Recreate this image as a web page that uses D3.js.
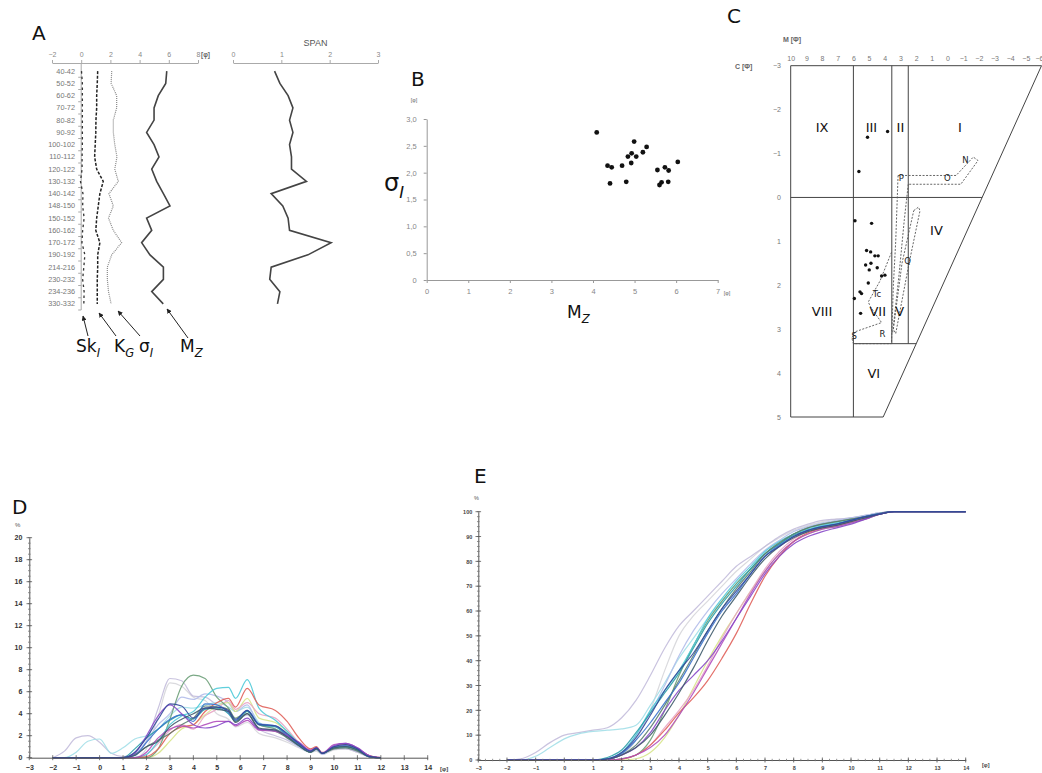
<!DOCTYPE html>
<html><head><meta charset="utf-8">
<script src="https://cdn.jsdelivr.net/npm/d3@7"></script>
<style>body{margin:0;background:#fff}svg{display:block}</style>
</head><body><svg id="c" width="1042" height="773"></svg>
<script>
// ================= DATA =================
// Panel A – down-core grain-size parameters
const depthLabels = ["40-42","50-52","60-62","70-72","80-82","90-92","100-102","110-112","120-122","130-132","140-142","148-150","150-152","160-162","170-172","190-192","214-216","230-232","234-236","330-332"];
const mzValues    = [5.86,5.79,5.28,4.99,4.99,4.48,4.99,5.33,4.83,5.17,5.63,6.08,4.48,4.83,4.14,4.71,5.63,5.63,4.83,5.62];
const sigmaValues = [2.09,2.05,2.43,2.43,2.20,2.20,2.30,2.45,2.30,2.54,1.90,2.20,1.87,2.20,2.77,2.09,1.79,1.79,1.87,2.05];
const kgValues    = [1.13,1.10,1.06,1.06,1.01,1.00,0.96,0.92,1.06,1.51,1.28,1.17,1.06,1.00,1.28,1.13,1.13,1.10,1.10,1.10];
const skValues    = [0.02,0.08,0.08,0.08,0.08,0.08,0.08,0.06,0.06,-0.05,0.12,0.10,0.20,0.10,0.05,0.25,0.18,0.10,0.20,0.18];
const spanValues  = [0.86,0.97,1.14,1.24,1.17,1.24,1.17,1.21,1.21,1.52,0.79,1.03,1.14,1.17,2.03,1.55,0.79,0.76,0.97,0.92];
const phiTicksA = [-2,0,2,4,6,8];
const spanTicks = [0,1,2,3];

// Panel B – sorting vs mean size
const bMz    = [4.09,4.99,4.35,4.45,4.41,4.70,4.84,4.93,5.04,4.92,5.20,5.29,4.80,5.55,5.73,5.82,6.04,5.60,5.65,5.81];
const bSigma = [2.75,2.58,2.13,2.10,1.80,2.13,2.30,2.36,2.30,2.18,2.38,2.48,1.83,2.05,2.10,2.04,2.20,1.77,1.82,1.83];
const bXTicks = [0,1,2,3,4,5,6,7];
const bYTicks = [0,0.5,1,1.5,2,2.5,3];

// Panel C – C–M (Passega) diagram
const cmM = [5.10,3.82,5.65,5.90,4.84,5.16,4.90,4.63,4.42,5.22,4.88,4.99,4.48,4.20,3.99,5.58,5.48,5.94,5.54,5.05];
const cmC = [-1.37,-1.50,-0.59,0.53,0.59,1.21,1.24,1.33,1.33,1.54,1.50,1.65,1.60,1.79,1.77,2.15,2.19,2.30,2.64,1.95];
const cmMTicks = [10,9,8,7,6,5,4,3,2,1,0,-1,-2,-3,-4,-5,-6];
const cmCTicks = [-3,-2,-1,0,1,2,3,4,5];
const regionNames = ["IX","III","II","I","IV","VIII","VII","V","VI"];
const regionM     = [8.0, 4.85, 3.0, -0.8, 0.7, 8.0, 4.45, 3.05, 4.7];
const regionC     = [-1.6,-1.6,-1.6,-1.6,0.75,2.6,2.6,2.6,4.0];
const letterNames = ["N","O","P","Q","Tc","R","S"];
const letterM     = [-1.15,0.0,2.95,2.55,4.5,4.15,5.95];
const letterC     = [-0.85,-0.45,-0.45,1.45,2.2,3.1,3.15];
const envPQ   = [[3.15,-0.5],[-0.55,-0.5],[-1.65,-0.92],[-1.95,-0.84],[-0.85,-0.3],[2.5,-0.3]];
const envLeft = [[3.15,-0.5],[3.3,1.0],[3.45,2.0],[3.57,3.33]];
const envMid  = [[2.5,-0.3],[2.75,0.5],[3.1,1.8],[3.5,3.1]];
const envLoop = [[2.15,0.3],[1.85,0.22],[1.75,0.3],[2.45,1.5],[3.3,3.1],[3.45,3.0],[2.9,1.5],[2.15,0.3]];
const envRS   = [[3.57,1.25],[4.3,1.9],[5.05,2.38],[4.9,2.5],[4.2,2.85],[5.9,3.06],[6.1,3.2],[6.0,3.33],[3.57,3.33]];

// Panel D – frequency curves (phi, %)
const dPhi = [-2,-1.5,-1,-0.5,0,0.5,1,1.5,2,2.5,3,3.5,4,4.5,5,5.5,5.8,6.3,6.8,7.5,8,8.5,9,9.25,9.5,10,10.5,11,11.5,12];
const freq1  = [0,0.6,1.8,2.0,1.4,0.4,0.1,0.3,1.5,4.5,7.2,7.0,5.6,5.5,4.8,4.3,3.4,3.9,2.6,2.0,1.6,1.0,0.5,0.7,0.4,0.8,0.8,0.5,0.1,0];
const freq2  = [0,0,0.5,1.5,1.7,0.4,0.9,1.7,2.0,2.6,3.8,4.6,4.5,4.8,5.0,4.6,4.2,4.6,3.2,2.6,2.0,1.2,0.6,0.8,0.4,0.9,1.0,0.7,0.1,0];
const freq3  = [0,0,0,0,0,0,0,0,0,0.8,3.5,6.5,7.5,7.2,5.5,4.5,3.6,4.2,3.0,2.6,2.0,1.2,0.5,0.8,0.4,0.9,1.0,0.7,0.1,0];
const freq4  = [0,0,0,0,0,0,0,0,0.3,1.5,3.0,3.8,4.2,5.5,6.3,6.4,5.4,7.1,4.5,3.4,2.4,1.3,0.6,0.9,0.4,0.9,1.0,0.7,0.1,0];
const freq5  = [0,0,0,0,0,0,0,0,0.1,0.8,2.2,2.8,3.0,4.2,5.0,5.4,4.6,6.3,4.8,4.3,3.3,1.8,0.8,1.0,0.4,1.0,1.2,0.8,0.2,0];
const freq6  = [0,0,0,0,0,0,0,0.5,1.8,3.5,4.9,4.7,3.6,4.5,4.6,4.3,3.5,4.3,3.0,2.9,2.2,1.3,0.6,0.9,0.4,1.0,1.2,0.8,0.1,0];
const freq7  = [0,0,0,0,0,0,0,0.4,2.0,3.8,4.8,4.0,3.0,2.7,2.9,3.3,3.0,3.6,2.6,2.5,2.0,1.4,0.6,0.9,0.4,1.1,1.3,0.9,0.2,0];
const freq8  = [0,0,0,0,0,0,0,0.8,1.8,2.6,3.4,3.9,3.5,4.4,4.5,4.0,3.3,4.2,3.0,2.8,2.0,1.1,0.5,0.8,0.4,0.9,1.0,0.7,0.1,0];
const freq9  = [0,0,0,0,0,0,0,0.3,1.0,1.6,2.2,3.0,3.6,4.7,4.6,4.4,3.3,4.0,2.6,2.4,1.8,1.1,0.5,0.8,0.4,0.8,0.9,0.6,0.1,0];
const freq10 = [0,0,0,0,0,0,0,0,0.3,1.3,2.5,3.0,2.6,3.8,4.4,5.2,4.4,5.0,4.0,3.6,2.6,1.4,0.7,0.9,0.5,1.0,1.1,0.7,0.1,0];
const freq11 = [0,0,0,0,0,0,0,0,0,0.4,1.5,2.6,3.0,3.9,4.7,5.0,4.2,5.4,3.6,3.2,2.4,1.3,0.6,0.8,0.4,0.9,1.0,0.7,0.2,0];
const freq12 = [0,0,0,0,0,0,0,0,0.8,3.8,6.8,6.5,5.5,5.2,4.0,3.5,2.8,3.2,2.2,1.8,1.4,0.9,0.5,0.6,0.3,0.7,0.8,0.5,0.1,0];
const freq13 = [0,0,0,0,0,0,0,0.3,1.5,3.0,4.0,5.5,5.3,5.8,5.6,5.0,4.2,4.8,3.0,2.6,1.8,1.0,0.5,0.7,0.3,0.8,0.9,0.6,0.1,0];
const freq14 = [0,0,0,0,0,0,0,0.2,1.4,2.6,3.5,3.9,3.3,4.9,4.8,4.1,3.4,4.3,3.1,2.9,2.1,1.2,0.6,0.9,0.4,1.0,1.1,0.8,0.1,0];
const freq15 = [0,0,0,0,0,0,0,0.2,1.0,1.5,2.8,3.5,4.0,4.5,4.4,4.2,3.2,4.0,2.7,2.5,1.9,1.1,0.5,0.8,0.4,0.9,1.0,0.7,0.1,0];
const freq16 = [0,0,0,0,0,0,0,0,0.5,1.8,2.6,2.9,2.7,3.0,3.3,3.3,2.9,3.4,2.5,2.4,2.0,1.4,0.7,0.9,0.4,1.2,1.3,0.9,0.2,0];
const dXTicks = [-3,-2,-1,0,1,2,3,4,5,6,7,8,9,10,11,12,13,14];
const dYTicks = [0,2,4,6,8,10,12,14,16,18,20];

// Panel E – cumulative curves (phi, %)
const ePhi = [-2,-1.5,-1,-0.5,0,0.5,1,1.5,2,2.5,3,3.5,4,4.5,5,5.5,6,6.5,7,7.5,8,8.5,9,9.5,10,10.5,11,11.5,12,12.5,13,13.5,14];
const cum1  = [0,0.5,3,7,10,11,12,13,17,24,34,45,54,60,66,72,78,82,86,90,93,95,96.5,97,97.5,98.5,99.5,100,100,100,100,100,100];
const cum2  = [0,0,1.5,5,8.5,10.5,11.5,12,12.5,14,22,31,41,49,57,64,71,77,83,87,91,93.5,95,96,97,98,99.3,100,100,100,100,100,100];
const cum3  = [0,0,0,0,0,0,0,0,0.5,2,8,20,34,46,56,64,71,77,83,87,91,93.5,95,96,97,98,99.2,100,100,100,100,100,100];
const cum4  = [0,0,0,0,0,0,0,0.5,3,10,20,28,36,46,57,65,72,78,84,88,91,93,94.5,95.5,96.5,98,99.2,100,100,100,100,100,100];
const cum5  = [0,0,0,0,0,0,0,0,0.3,2,6,12,19,25,32,41,51,63,74,82,88,91.5,93.5,94.5,96,97.5,99,100,100,100,100,100,100];
const cum6  = [0,0,0,0,0,0,0,0.5,3,9,18,28,36,43,52,61,68,75,82,86,90,92.5,94,95,96.5,98,99,100,100,100,100,100,100];
const cum7  = [0,0,0,0,0,0,0,0.3,2,5,11,20,28,34,40,48,57,66,75,82,87,90,92,93.5,95,97,99,100,100,100,100,100,100];
const cum8  = [0,0,0,0,0,0,0,1,4,11,19,27,35,45,55,63,70,77,83,87,90.5,92.5,94,95,96.5,98,99,100,100,100,100,100,100];
const cum9  = [0,0,0,0,0,0,0,0.3,2,6,13,22,32,42,52,61,69,76,83,87.5,91,93.5,95,96,97,98,99.3,100,100,100,100,100,100];
const cum10 = [0,0,0,0,0,0,0,0,0.3,2,6,13,20,28,38,49,59,68,77,84,89,92,93.5,94.5,96,97.5,99,100,100,100,100,100,100];
const cum11 = [0,0,0,0,0,0,0,0,0,0.5,3,9,18,29,40,50,59,68,76,83,88,91,93,94,95.5,97,99,100,100,100,100,100,100];
const cum12 = [0,0,0,0,0,0,0,0.5,2,8,20,36,50,58,64,70,76,81,86,89.5,92.5,94.5,96,97,97.5,98.5,99.5,100,100,100,100,100,100];
const cum13 = [0,0,0,0,0,0,0,0.5,3,10,19,30,42,52,60,67,73,79,84.5,88.5,92,94,95.5,96.5,97.5,98.5,99.5,100,100,100,100,100,100];
const cum14 = [0,0,0,0,0,0,0,0.3,2.5,8,15,23,31,41,51,60,67,75,82,86.5,90,92.5,94,95,96.5,98,99.2,100,100,100,100,100,100];
const cum15 = [0,0,0,0,0,0,0,0.3,2,5,10,18,27,37,48,58,66,74,81,86,89.5,92,93.5,94.5,96,97.5,99,100,100,100,100,100,100];
const cum16 = [0,0,0,0,0,0,0,0,0.5,2,5,10,18,27,37,47,57,67,76,83,88,91,93,94,95.5,97,99,100,100,100,100,100,100];
const eXTicks = [-3,-2,-1,0,1,2,3,4,5,6,7,8,9,10,11,12,13,14];
const eYTicks = [0,10,20,30,40,50,60,70,80,90,100];

// ================= DRAW =================
const FONT = "'Liberation Sans', Arial, sans-serif";
const svg = d3.select("#c");
svg.append("rect").attr("width",1042).attr("height",773).attr("fill","#fff");
const defs = svg.append("defs");
defs.append("marker").attr("id","ah").attr("viewBox","0 0 10 10").attr("refX",9).attr("refY",5)
  .attr("markerWidth",5).attr("markerHeight",5).attr("orient","auto")
  .append("path").attr("d","M0,0L10,5L0,10z").attr("fill","#222");

function styleAx(g, col, tcol, fs, bold) {
  g.selectAll("path,line").attr("stroke", col);
  g.selectAll("text").attr("fill", tcol).style("font-size", fs + "px").style("font-family", FONT)
    .style("font-weight", bold ? "bold" : "normal");
}
function txt(x, y, s, fs, opt = {}) {
  return svg.append("text").attr("x", x).attr("y", y).text(s)
    .style("font-size", fs + "px").style("font-family", opt.family || "'DejaVu Sans', sans-serif")
    .attr("fill", opt.fill || "#111").attr("text-anchor", opt.anchor || "start")
    .style("font-weight", opt.bold ? "bold" : "normal");
}
function subLabel(x, y, main, sub, fs) {
  const t = svg.append("text").attr("x", x).attr("y", y)
    .style("font-family", "'DejaVu Sans', sans-serif").style("font-size", fs + "px").attr("fill", "#111");
  t.append("tspan").text(main);
  t.append("tspan").text(sub).attr("dy", fs * 0.3).style("font-size", (fs * 0.68) + "px").style("font-style", "italic");
  return t;
}

// panel letters
[["A",32,40],["B",411,86],["C",727,23],["D",12,514],["E",474,483]].forEach(([s,x,y]) => txt(x, y, s, 20, {fill:"#111"}));

// ---------- Panel A ----------
const xA = d3.scaleLinear().domain([-2, 8]).range([52, 198]);
const xS = d3.scaleLinear().domain([0, 3]).range([233, 378]);
const yA = d3.scaleBand().domain(depthLabels).range([65, 310]);
const yMid = d => yA(d) + yA.bandwidth() / 2;

const axA = svg.append("g").attr("transform", "translate(0,63)")
  .call(d3.axisTop(xA).tickValues(phiTicksA).tickSize(3).tickSizeOuter(0).tickPadding(3));
styleAx(axA, "#aaa", "#888", 7);
const axS = svg.append("g").attr("transform", "translate(0,63)")
  .call(d3.axisTop(xS).tickValues(spanTicks).tickFormat(d3.format("d")).tickSize(3).tickSizeOuter(0).tickPadding(3));
styleAx(axS, "#aaa", "#888", 7);
txt(xA(8) + 3, 57, "[φ]", 6.5, {bold:true, fill:"#666", family:FONT});
txt((xS(0) + xS(3)) / 2 + 10, 46, "SPAN", 9, {anchor:"middle", fill:"#555", family:FONT});

// depth axis
svg.append("line").attr("x1", xA(0)).attr("x2", xA(0)).attr("y1", 63).attr("y2", 310).attr("stroke", "#aaa");
svg.selectAll(".dtick").data(depthLabels).join("line")
  .attr("x1", xA(0) - 3).attr("x2", xA(0))
  .attr("y1", d => yA(d) + yA.bandwidth())
  .attr("y2", d => yA(d) + yA.bandwidth())
  .attr("stroke", "#aaa");
svg.selectAll(".dlab").data(depthLabels).join("text")
  .attr("x", 75).attr("y", d => yMid(d)).attr("dy", "0.35em").attr("text-anchor", "end")
  .text(d => d).style("font-size", "7.3px").style("font-family", FONT).attr("fill", "#777");

const lineAx = sc => d3.line().x(v => sc(v)).y((v, i) => yMid(depthLabels[i]));
svg.append("path").attr("d", lineAx(xA)(skValues)).attr("fill","none").attr("stroke","#333")
  .attr("stroke-width",1.3).attr("stroke-dasharray","2.5,3");
svg.append("path").attr("d", lineAx(xA)(kgValues)).attr("fill","none").attr("stroke","#222")
  .attr("stroke-width",1.5).attr("stroke-dasharray","3,1.6");
svg.append("path").attr("d", lineAx(xA)(sigmaValues)).attr("fill","none").attr("stroke","#888")
  .attr("stroke-width",1.2).attr("stroke-dasharray","1,1");
svg.append("path").attr("d", lineAx(xA)(mzValues)).attr("fill","none").attr("stroke","#444")
  .attr("stroke-width",1.6);
svg.append("path").attr("d", lineAx(xS)(spanValues)).attr("fill","none").attr("stroke","#444")
  .attr("stroke-width",1.6);

// arrows + labels
[[88,336,83,316],[116,336,99,313],[140,336,118,311],[188,338,167,309]].forEach(([x1,y1,x2,y2]) =>
  svg.append("line").attr("x1",x1).attr("y1",y1).attr("x2",x2).attr("y2",y2)
    .attr("stroke","#222").attr("stroke-width",1).attr("marker-end","url(#ah)"));
subLabel(76, 352, "Sk", "I", 17);
subLabel(114, 352, "K", "G", 17);
subLabel(139, 352, "σ", "I", 17);
subLabel(180, 352, "M", "Z", 17);

// ---------- Panel B ----------
const xB = d3.scaleLinear().domain([0, 7]).range([426.7, 717.7]);
const yB = d3.scaleLinear().domain([0, 3]).range([280, 119]);
const axBx = svg.append("g").attr("transform", "translate(0,280)")
  .call(d3.axisBottom(xB).tickValues(bXTicks).tickFormat(d3.format("d")).tickSize(3).tickSizeOuter(0).tickPadding(6));
styleAx(axBx, "#999", "#888", 7.5);
const axBy = svg.append("g").attr("transform", "translate(426.7,0)")
  .call(d3.axisLeft(yB).tickValues(bYTicks).tickSize(3).tickSizeOuter(0).tickPadding(7)
    .tickFormat(d => d === 0 ? "0" : d3.format(".1f")(d).replace(".", ",")));
styleAx(axBy, "#999", "#888", 7.5);
txt(414, 102, "[φ]", 5.5, {anchor:"middle", fill:"#666", family:FONT});
txt(727, 295, "[φ]", 5.5, {anchor:"middle", fill:"#666", family:FONT});
svg.selectAll(".bpt").data(bMz).join("circle")
  .attr("cx", d => xB(d)).attr("cy", (d, i) => yB(bSigma[i])).attr("r", 2.4).attr("fill", "#111");
subLabel(384, 191, "σ", "I", 24);
subLabel(567, 318, "M", "Z", 17);

// ---------- Panel C ----------
const xM = d3.scaleLinear().domain([10, -6]).range([790.7, 1041.5]);
const yC = d3.scaleLinear().domain([-3, 5]).range([65.7, 417]);
const diagM = c => -6 + (c + 3) / 8 * 10.1;
const lnC = d3.line().x(d => xM(d[0])).y(d => yC(d[1]));
const cStroke = "#444";
svg.append("path").attr("d", lnC([[10,-3],[-6,-3],[diagM(5),5],[10,5],[10,-3]]))
  .attr("fill","none").attr("stroke",cStroke).attr("stroke-width",1);
[[[6,-3],[6,5]], [[3.55,-3],[3.55,3.33]], [[2.5,-3],[2.5,3.33]],
 [[10,0],[diagM(0),0]], [[6,3.33],[diagM(3.33),3.33]]].forEach(seg =>
  svg.append("path").attr("d", lnC(seg)).attr("fill","none").attr("stroke",cStroke).attr("stroke-width",1));
[envPQ, envLeft, envMid, envLoop, envRS].forEach(p =>
  svg.append("path").attr("d", lnC(p)).attr("fill","none").attr("stroke","#555")
    .attr("stroke-width",0.9).attr("stroke-dasharray","2,1.5"));
const axCm = svg.append("g").attr("transform", "translate(0,64)")
  .call(d3.axisTop(xM).tickValues(cmMTicks).tickSize(0).tickPadding(3));
axCm.select(".domain").remove();
styleAx(axCm, "#999", "#777", 7);
axCm.selectAll(".tick").filter(d => d === -6).select("text").attr("text-anchor", "end").attr("x", 1.5);
const axCc = svg.append("g").attr("transform", "translate(783,0)")
  .call(d3.axisLeft(yC).tickValues(cmCTicks).tickSize(0).tickPadding(2));
axCc.select(".domain").remove();
styleAx(axCc, "#999", "#777", 7);
txt(783, 42, "M [Φ]", 7, {bold:true, fill:"#666", family:FONT});
txt(735, 69, "C [Φ]", 7, {bold:true, fill:"#666", family:FONT});
svg.selectAll(".cpt").data(cmM).join("circle")
  .attr("cx", d => xM(d)).attr("cy", (d, i) => yC(cmC[i])).attr("r", 1.7).attr("fill", "#111");
svg.selectAll(".reg").data(regionNames).join("text")
  .attr("x", (d, i) => xM(regionM[i])).attr("y", (d, i) => yC(regionC[i])).attr("dy", "0.35em")
  .attr("text-anchor", "middle").text(d => d)
  .style("font-size", "13px").style("font-family", "'DejaVu Sans', sans-serif").attr("fill", "#111");
svg.selectAll(".let").data(letterNames).join("text")
  .attr("x", (d, i) => xM(letterM[i])).attr("y", (d, i) => yC(letterC[i])).attr("dy", "0.35em")
  .attr("text-anchor", "middle").text(d => d)
  .style("font-size", "8.5px").style("font-family", "'DejaVu Sans', sans-serif").attr("fill", "#222");

// ---------- shared palette for D/E ----------
const palette = ["#c3bddb","#a3dfe8","#6b9f78","#4fcad8","#e0605a","#33489a","#8748c8","#2a9ea8",
                 "#5b7f70","#e8a3c4","#d7e58a","#d6d6da","#b3bdea","#3a72cc","#3e5a6a","#b04cbc"];
const drawOrder = [11,0,1,12,10,9,2,3,4,7,8,13,15,6,14,5];
const freqList = [freq1,freq2,freq3,freq4,freq5,freq6,freq7,freq8,freq9,freq10,freq11,freq12,freq13,freq14,freq15,freq16];
const cumList  = [cum1,cum2,cum3,cum4,cum5,cum6,cum7,cum8,cum9,cum10,cum11,cum12,cum13,cum14,cum15,cum16];

function crossTicks(g, vals, sc, orient, len, col) {
  g.selectAll(null).data(vals).join("line")
    .attr(orient === "x" ? "x1" : "y1", d => sc(d)).attr(orient === "x" ? "x2" : "y2", d => sc(d))
    .attr(orient === "x" ? "y1" : "x1", -len).attr(orient === "x" ? "y2" : "x2", len)
    .attr("stroke", col).attr("stroke-width", 0.8);
}

// ---------- Panel D ----------
const xD = d3.scaleLinear().domain([-3, 14]).range([29.3, 427.7]);
const yD = d3.scaleLinear().domain([0, 20]).range([757.7, 537.7]);
const lnD = d3.line().x((v, i) => xD(dPhi[i])).y(v => yD(v)).curve(d3.curveMonotoneX);
drawOrder.forEach(k => svg.append("path").attr("d", lnD(freqList[k])).attr("fill","none")
  .attr("stroke", palette[k]).attr("stroke-width", 1.2).attr("stroke-opacity", 0.9));
const axDx = svg.append("g").attr("transform", "translate(0,757.7)")
  .call(d3.axisBottom(xD).tickValues(dXTicks).tickSize(0).tickSizeOuter(0).tickPadding(7));
styleAx(axDx, "#555", "#333", 7, true);
crossTicks(axDx, dXTicks, xD, "x", 2.5, "#555");
const axDy = svg.append("g").attr("transform", "translate(29.3,0)")
  .call(d3.axisLeft(yD).tickValues(dYTicks).tickSize(0).tickSizeOuter(0).tickPadding(7));
styleAx(axDy, "#555", "#333", 7, true);
crossTicks(axDy, d3.range(0, 20.01, 0.5), yD, "y", 1.3, "#777");
crossTicks(axDy, dYTicks, yD, "y", 2.8, "#555");
txt(15, 527, "%", 6, {fill:"#555", family:FONT});
txt(440, 771, "[φ]", 6, {bold:true, fill:"#444", family:FONT});

// ---------- Panel E ----------
const xE = d3.scaleLinear().domain([-3, 14]).range([478.3, 965.7]);
const yE = d3.scaleLinear().domain([0, 100]).range([760, 511.7]);
const lnE = d3.line().x((v, i) => xE(ePhi[i])).y(v => yE(v)).curve(d3.curveMonotoneX);
drawOrder.forEach(k => svg.append("path").attr("d", lnE(cumList[k])).attr("fill","none")
  .attr("stroke", palette[k]).attr("stroke-width", 1.2).attr("stroke-opacity", 0.9));
const axEx = svg.append("g").attr("transform", "translate(0,760)")
  .call(d3.axisBottom(xE).tickValues(eXTicks).tickSize(0).tickSizeOuter(0).tickPadding(6));
styleAx(axEx, "#555", "#444", 5.5, true);
crossTicks(axEx, d3.range(-3, 14.01, 0.25), xE, "x", 1.2, "#777");
crossTicks(axEx, eXTicks, xE, "x", 2.5, "#555");
const axEy = svg.append("g").attr("transform", "translate(478.3,0)")
  .call(d3.axisLeft(yE).tickValues(eYTicks).tickSize(0).tickSizeOuter(0).tickPadding(6));
styleAx(axEy, "#555", "#444", 5.5, true);
crossTicks(axEy, d3.range(0, 100.01, 2), yE, "y", 1.3, "#777");
crossTicks(axEy, eYTicks, yE, "y", 2.8, "#555");
txt(474, 500, "%", 5.5, {fill:"#555", family:FONT});
txt(982, 767, "[φ]", 5.5, {bold:true, fill:"#444", family:FONT});
</script></body></html>
